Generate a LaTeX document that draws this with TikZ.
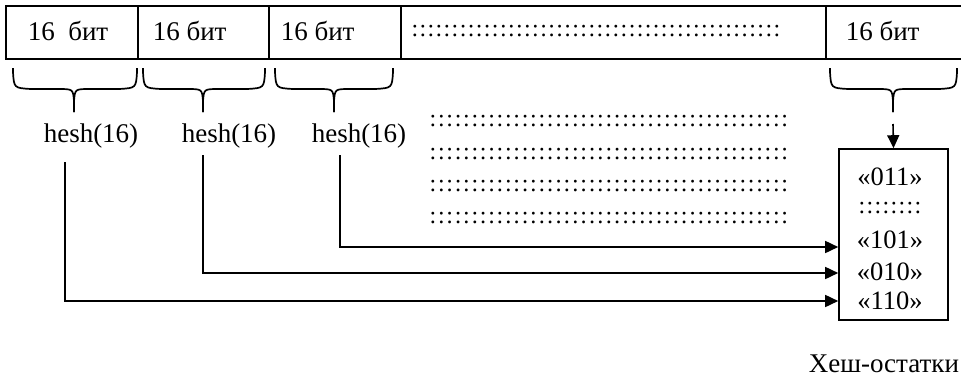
\documentclass[tikz,border=0pt]{standalone}
\usepackage{fontspec}
\setmainfont{Liberation Serif}
\usetikzlibrary{arrows.meta}

% a row of evenly spaced colons: #1 total width, #2 pitch
\newcommand\colonrow[2]{\hbox to #1{\xleaders\hbox to #2{\hss:\hss}\hfill}}
% a downward curly brace: left end #1, tip #2, right end #3
\newcommand\curlybrace[3]{%
  \draw[brc] (#1,68) -- (#1,72) .. controls (#1+1,88) .. (#1+18,89)
    -- (#2-16,89) .. controls (#2-1,89) .. (#2,101) -- (#2,112);
  \draw[brc] (#3,68) -- (#3,72) .. controls (#3-1,88) .. (#3-18,89)
    -- (#2+16,89) .. controls (#2+1,89) .. (#2,101) -- (#2,112);}

\begin{document}
\begin{tikzpicture}[x=1pt,y=-1pt,
  line width=1.6pt,
  cell/.style={draw,rectangle,anchor=north west,inner sep=0pt,minimum height=53pt},
  lbl/.style={font=\fontsize{27}{30}\selectfont,inner sep=0pt},
  boxtxt/.style={font=\fontsize{26.5}{30}\selectfont,inner sep=0pt},
  dots/.style={font=\fontsize{24}{28}\selectfont,inner sep=0pt,anchor=west},
  brc/.style={line width=1.7pt,line join=miter},
  arr/.style={-{Triangle[length=13pt,width=12pt]}}]
\useasboundingbox (0,0) rectangle (961,381);

% the sequence of 16-bit blocks
\node[cell,minimum width=132pt] (c1) at (5,5) {};
\node[cell,minimum width=131pt] (c2) at (137,5) {};
\node[cell,minimum width=132pt] (c3) at (268,5) {};
\node[cell,minimum width=425pt] (c4) at (400,5) {};
\node[cell,minimum width=140pt] (c5) at (825,5) {};
\node[lbl,anchor=base west] (t1) at (27,40) {16\ \ бит};
\node[lbl,anchor=base west] (t2) at (152,40) {16 бит};
\node[lbl,anchor=base west] (t3) at (280,40) {16 бит};
\node[lbl,anchor=base west] (t5) at (845,40) {16 бит};
\node[dots] (t4) at (410,31) {\colonrow{370pt}{8pt}};

% braces under the blocks
\curlybrace{13}{74}{137}
\curlybrace{143}{203}{265}
\curlybrace{275}{334}{393}
\curlybrace{830}{893}{957}

% hash labels
\node[lbl] (h1) at (91,136) {hesh(16)};
\node[lbl] (h2) at (229,136) {hesh(16)};
\node[lbl] (h3) at (359,136) {hesh(16)};

% rows of omitted hashes
\node[dots] (d1) at (428,121) {\colonrow{360pt}{8.3pt}};
\node[dots] (d2) at (428,154) {\colonrow{360pt}{8.3pt}};
\node[dots] (d3) at (428,186) {\colonrow{360pt}{8.3pt}};
\node[dots] (d4) at (428,218) {\colonrow{360pt}{8.3pt}};

% table of hash remainders
\node[draw,rectangle,minimum width=109pt,minimum height=171pt,inner sep=0pt] (box) at (893.5,234.5) {};
\node[boxtxt] (r1) at (890,177) {«011»};
\node[dots,anchor=center] (r2) at (890,208) {\colonrow{64pt}{8pt}};
\node[boxtxt] (r3) at (890,240) {«101»};
\node[boxtxt] (r4) at (890,272) {«010»};
\node[boxtxt] (r5) at (890,301) {«110»};

\node[lbl,anchor=base west] (cap) at (808,372) {Хеш-остатки};

% connectors
\coordinate (b4) at (893,124);
\draw[arr] (b4) -- (box.north);
\coordinate (s1) at (65,162);
\coordinate (s2) at (203,155);
\coordinate (s3) at (340,155);
\draw[arr] (s3) |- (box.west |- 0,247);
\draw[arr] (s2) |- (box.west |- 0,273);
\draw[arr] (s1) |- (box.west |- 0,301);
\end{tikzpicture}
\end{document}
